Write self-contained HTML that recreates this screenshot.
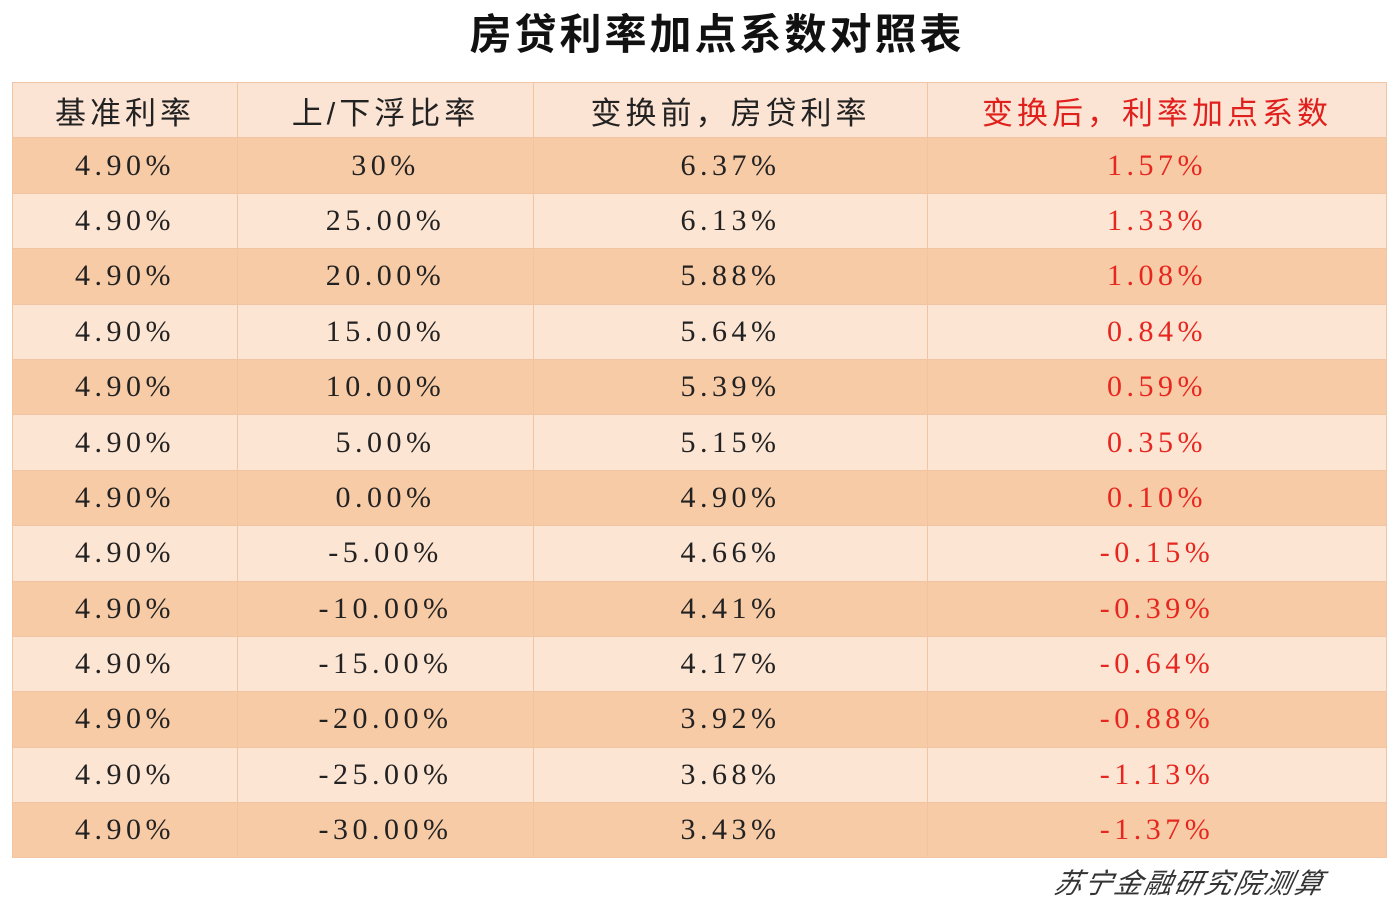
<!DOCTYPE html>
<html><head><meta charset="utf-8">
<style>
html,body{margin:0;padding:0;background:#fff;width:1399px;height:901px;overflow:hidden;}
#title{position:absolute;left:0;width:1434px;top:1px;text-align:center;font:bold 42px "Liberation Sans","Noto Sans CJK SC",sans-serif;letter-spacing:3px;color:#111;}
table{position:absolute;left:12px;top:82px;width:1374px;border-collapse:collapse;table-layout:fixed;}
td,th{height:54.4px;padding:0;text-align:center;border:1.5px solid #f3c4a2;}
th{background:#fce4d4;font:normal 31px "Liberation Sans","Noto Sans CJK SC",sans-serif;letter-spacing:4px;color:#222;}
th.red{color:#e0201c;}
td{font:30px "Liberation Serif","Noto Serif CJK SC",serif;letter-spacing:4.5px;color:#222;}
td.red{color:#e6271f;}
tr.dark td{background:#f8cba7;}
tr.light td{background:#fde5d4;}
#src{position:absolute;left:1055px;top:862px;font:italic 28px "Liberation Sans","Noto Sans CJK SC",sans-serif;color:#333;transform:skewX(-12deg);letter-spacing:2px;}
</style></head><body>
<div id="title">房贷利率加点系数对照表</div>
<table id="tbl">
<colgroup><col style="width:225px"><col style="width:296px"><col style="width:394px"><col style="width:459px"></colgroup>
<thead><tr>
<th>基准利率</th>
<th>上/下浮比率</th>
<th>变换前，房贷利率</th>
<th class="red">变换后，利率加点系数</th>
</tr></thead>
<tbody id="tb"></tbody>
</table>
<div id="src">苏宁金融研究院测算</div>
<script>
const baseRate=["4.90%","4.90%","4.90%","4.90%","4.90%","4.90%","4.90%","4.90%","4.90%","4.90%","4.90%","4.90%","4.90%"];
const floatRatio=["30%","25.00%","20.00%","15.00%","10.00%","5.00%","0.00%","-5.00%","-10.00%","-15.00%","-20.00%","-25.00%","-30.00%"];
const beforeRate=["6.37%","6.13%","5.88%","5.64%","5.39%","5.15%","4.90%","4.66%","4.41%","4.17%","3.92%","3.68%","3.43%"];
const afterSpread=["1.57%","1.33%","1.08%","0.84%","0.59%","0.35%","0.10%","-0.15%","-0.39%","-0.64%","-0.88%","-1.13%","-1.37%"];
const tb=document.getElementById('tb');
for(let i=0;i<baseRate.length;i++){
  const tr=document.createElement('tr');
  tr.className=i%2===0?'dark':'light';
  
  
  const vals=[baseRate[i],floatRatio[i],beforeRate[i],afterSpread[i]];
  for(let j=0;j<4;j++){
    const td=document.createElement('td');
    td.textContent=vals[j];
    if(j===3)td.className='red';
    
    
    tr.appendChild(td);
  }
  tb.appendChild(tr);
}
</script>
</body></html>
